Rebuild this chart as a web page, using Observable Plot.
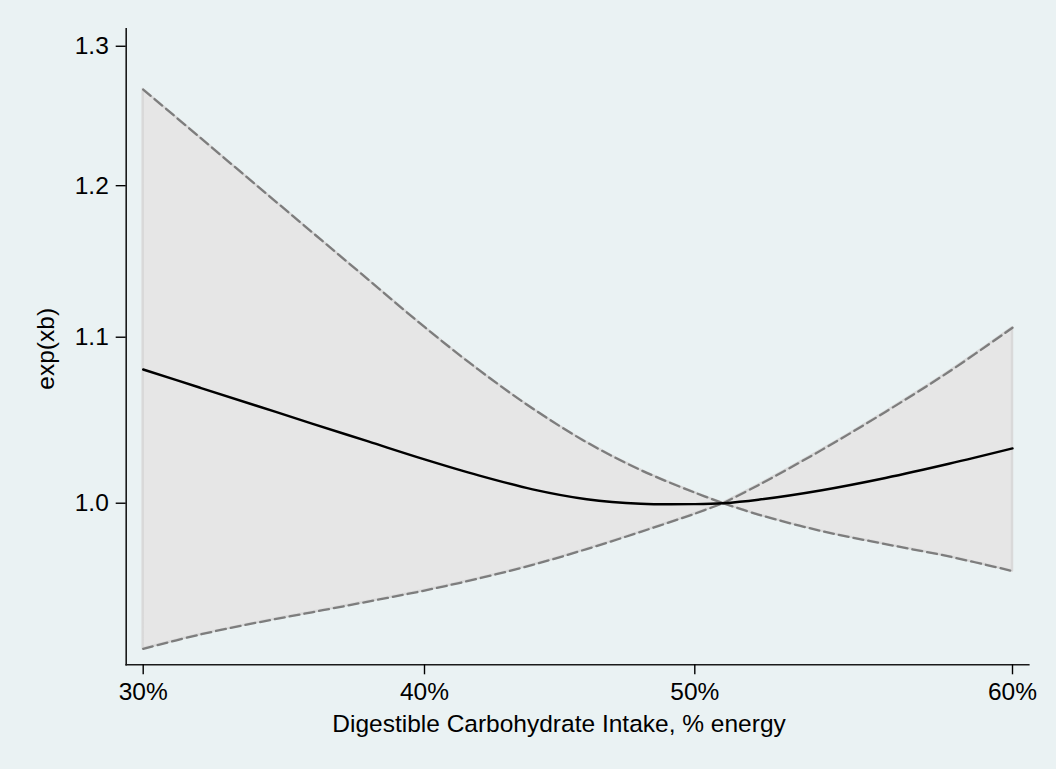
<!DOCTYPE html>
<html>
<head>
<meta charset="utf-8">
<script src="https://cdn.jsdelivr.net/npm/d3@7"></script>
<script src="https://cdn.jsdelivr.net/npm/@observablehq/plot@0.6"></script>
<style>
  html, body { margin: 0; padding: 0; background: #eaf2f3; overflow: hidden; }
  #chart svg { display: block; }
</style>
</head>
<body>
<div id="chart"></div>
<script>
// Digestible carbohydrate intake (% energy); 50.89 is the reference value (ratio = 1)
const carbPct = [30, 32, 34, 36, 38, 40, 42, 44, 46, 48, 50, 50.89, 52, 54, 56, 58, 60];
const refPct = 50.89;
// Point estimate exp(xb)
const expXb   = [1.0798, 1.0687, 1.0577, 1.0468, 1.0361, 1.0255, 1.0161, 1.0080, 1.0023, 0.9997, 0.9995, 1.0000, 1.0020, 1.0075, 1.0146, 1.0229, 1.0320];
// Upper 95% CI
const upperCI = [1.2681, 1.2340, 1.2007, 1.1684, 1.1370, 1.1065, 1.0797, 1.0559, 1.0356, 1.0192, 1.0061, 1.0000, 1.0104, 1.0311, 1.0538, 1.0784, 1.1060];
// Lower 95% CI
const lowerCI = [0.9198, 0.9273, 0.9336, 0.9393, 0.9451, 0.9511, 0.9577, 0.9652, 0.9740, 0.9837, 0.9940, 1.0000, 0.9935, 0.9841, 0.9768, 0.9699, 0.9618];

const xTicks = [30, 40, 50, 60];
const yTicks = [1.0, 1.1, 1.2, 1.3];
const xTitle = "Digestible Carbohydrate Intake, % energy";
const yTitle = "exp(xb)";

// Split into the two sides of the reference value (reference row shared by both)
const rows = [];
carbPct.forEach((x, i) => {
  const r = {x, est: expXb[i], hi: upperCI[i], lo: lowerCI[i]};
  if (x <= refPct) rows.push({...r, side: "below"});
  if (x >= refPct) rows.push({...r, side: "above"});
});

const FONT = 24.5;
const CURVE = "catmull-rom";
const dash = {stroke: "#7d7d7d", strokeWidth: 2.3, strokeDasharray: "10,5", curve: CURVE, z: "side"};

const plot = Plot.plot({
  width: 1056,
  height: 769,
  marginLeft: 125.7,
  marginRight: 27.7,
  marginTop: 28.3,
  marginBottom: 104.7,
  style: {
    background: "#eaf2f3",
    color: "#000",
    fontFamily: "'Liberation Sans', Arial, Helvetica, sans-serif",
    fontSize: FONT + "px"
  },
  x: {
    type: "linear",
    domain: [29.396, 30, 40, 50, 60, 60.513],
    range: [125.7, 142.7, 424, 694.3, 1012, 1028.3]
  },
  y: {
    type: "log",
    domain: [0.9114, 1.3131]
  },
  marks: [
    Plot.areaY(rows, {x: "x", y1: "lo", y2: "hi", z: "side", fill: "#e6e6e6", stroke: "#d9d9d9", strokeWidth: 2.5, curve: CURVE}),
    Plot.lineY(rows, {x: "x", y: "hi", ...dash}),
    Plot.lineY(rows, {x: "x", y: "lo", ...dash}),
    Plot.lineY(carbPct.map((x, i) => ({x, est: expXb[i]})), {x: "x", y: "est", stroke: "#000", strokeWidth: 2.4, curve: CURVE}),
    Plot.frame({anchor: "left", stroke: "#1a1a1a", strokeWidth: 1.6}),
    Plot.frame({anchor: "bottom", stroke: "#1a1a1a", strokeWidth: 1.6}),
    Plot.axisX({ticks: xTicks, tickFormat: d => d + "%", tickSize: 10, tickPadding: 8, fontSize: FONT, strokeWidth: 1.4, label: null}),
    Plot.axisY({ticks: yTicks, tickFormat: d3.format(".1f"), tickSize: 10, tickPadding: 7.4, fontSize: FONT, strokeWidth: 1.4, label: null}),
    Plot.text([xTitle], {text: d => d, frameAnchor: "bottom", lineAnchor: "bottom", textAnchor: "middle", dx: -18.5, dy: 67.4, fontSize: FONT}),
    Plot.text([yTitle], {text: d => d, frameAnchor: "left", rotate: -90, textAnchor: "middle", lineAnchor: "bottom", dx: -72.4, dy: 2, fontSize: FONT})
  ]
});
document.getElementById("chart").appendChild(plot);
</script>
</body>
</html>
